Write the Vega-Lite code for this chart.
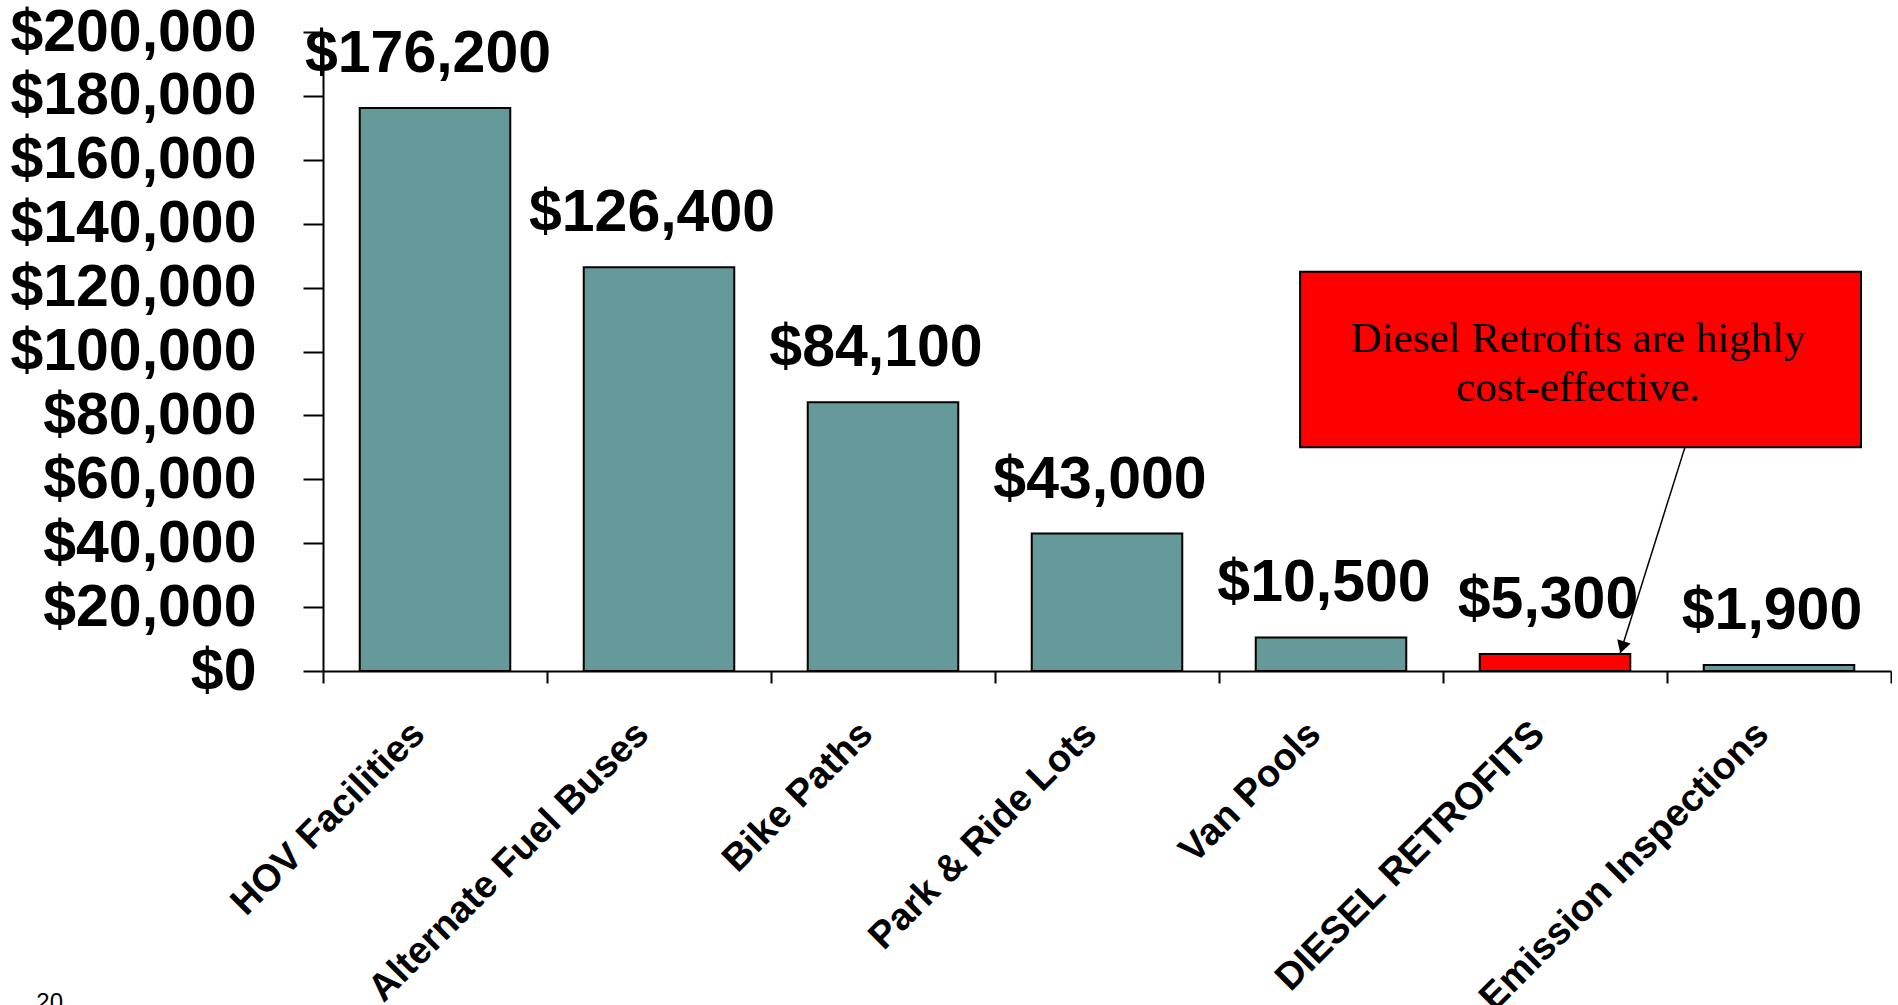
{
  "$schema": "https://vega.github.io/schema/vega-lite/v6.json",
  "width": 1568,
  "height": 639,
  "autosize": {"type": "pad"},
  "padding": {"left": 9, "top": 3, "right": 0, "bottom": 0},
  "background": "white",
  "datasets": {
    "bars": [
      {"category": "HOV Facilities", "cost": 176200},
      {"category": "Alternate Fuel Buses", "cost": 126400},
      {"category": "Bike Paths", "cost": 84100},
      {"category": "Park & Ride Lots", "cost": 43000},
      {"category": "Van Pools", "cost": 10500},
      {"category": "DIESEL RETROFITS", "cost": 5300},
      {"category": "Emission Inspections", "cost": 1900}
    ],
    "box": [{"x1": 4.362, "x2": 6.866, "y1": 70000, "y2": 125000}],
    "note": [
      {"x": 5.603, "y": 100000, "text": "Diesel Retrofits are highly"},
      {"x": 5.603, "y": 84500, "text": "cost-effective."}
    ],
    "arrow": [{"x1": 6.08, "y1": 70000, "x2": 5.79, "y2": 5300}],
    "head": [{"x": 5.7996, "y": 7420}],
    "page": [{"x": -1.28, "y": -106100, "text": "20"}]
  },
  "layer": [
    {
      "data": {"name": "bars"},
      "encoding": {
        "x": {
          "field": "category",
          "type": "nominal",
          "sort": null,
          "title": null,
          "scale": {"paddingInner": 0, "paddingOuter": 0},
          "axis": {
            "bandPosition": 1,
            "tickExtra": true,
            "labelAngle": -45,
            "labelAlign": "right",
            "labelBaseline": "middle",
            "labelPadding": 45,
            "labelOffset": -16,
            "labelFontSize": 38,
            "labelFont": "Liberation Sans",
            "labelFontWeight": "bold",
            "labelColor": "black",
            "labelLimit": 1000,
            "labelOverlap": false,
            "tickSize": 12,
            "tickWidth": 2,
            "tickColor": "black",
            "domainColor": "black",
            "domainWidth": 2
          }
        },
        "y": {
          "field": "cost",
          "type": "quantitative",
          "title": null,
          "scale": {"domain": [0, 200000], "nice": false},
          "axis": {"format": "$,.0f", "values": [0, 20000, 40000, 60000, 80000, 100000, 120000, 140000, 160000, 180000, 200000]}
        }
      },
      "layer": [
        {
          "mark": {"type": "bar", "width": {"band": 0.672}, "stroke": "black", "strokeWidth": 2},
          "encoding": {
            "color": {
              "condition": {"test": "datum.category === 'DIESEL RETROFITS'", "value": "#FF0000"},
              "value": "#669999"
            }
          }
        },
        {
          "mark": {
            "type": "text",
            "font": "Liberation Sans",
            "fontWeight": "bold",
            "fontSize": 59,
            "align": "center",
            "baseline": "alphabetic",
            "dx": -7,
            "dy": -36,
            "color": "black"
          },
          "encoding": {
            "text": {"field": "cost", "type": "quantitative", "format": "$,.0f"}
          }
        }
      ]
    },
    {
      "layer": [
        {
          "data": {"name": "box"},
          "mark": {"type": "rect", "fill": "#FF0000", "stroke": "black", "strokeWidth": 2},
          "encoding": {
            "x": {"field": "x1", "type": "quantitative", "scale": {"domain": [0, 7], "nice": false, "zero": false}, "axis": null},
            "x2": {"field": "x2"},
            "y": {"field": "y1", "type": "quantitative", "title": null, "axis": {"format": "$,.0f", "values": [0, 20000, 40000, 60000, 80000, 100000, 120000, 140000, 160000, 180000, 200000]}},
            "y2": {"field": "y2"}
          }
        },
        {
          "data": {"name": "note"},
          "mark": {"type": "text", "font": "Liberation Serif", "fontSize": 43, "align": "center", "baseline": "alphabetic", "color": "black"},
          "encoding": {
            "x": {"field": "x", "type": "quantitative", "scale": {"domain": [0, 7], "nice": false, "zero": false}, "axis": null},
            "y": {"field": "y", "type": "quantitative", "title": null, "axis": {"format": "$,.0f", "values": [0, 20000, 40000, 60000, 80000, 100000, 120000, 140000, 160000, 180000, 200000]}},
            "text": {"field": "text", "type": "nominal"}
          }
        },
        {
          "data": {"name": "arrow"},
          "mark": {"type": "rule", "color": "black", "strokeWidth": 1.5},
          "encoding": {
            "x": {"field": "x1", "type": "quantitative", "scale": {"domain": [0, 7], "nice": false, "zero": false}, "axis": null},
            "x2": {"field": "x2"},
            "y": {"field": "y1", "type": "quantitative", "title": null, "axis": {"format": "$,.0f", "values": [0, 20000, 40000, 60000, 80000, 100000, 120000, 140000, 160000, 180000, 200000]}},
            "y2": {"field": "y2"}
          }
        },
        {
          "data": {"name": "head"},
          "mark": {"type": "point", "shape": "triangle-down", "filled": true, "color": "black", "size": 200, "angle": 17.6, "opacity": 1},
          "encoding": {
            "x": {"field": "x", "type": "quantitative", "scale": {"domain": [0, 7], "nice": false, "zero": false}, "axis": null},
            "y": {"field": "y", "type": "quantitative", "title": null, "axis": {"format": "$,.0f", "values": [0, 20000, 40000, 60000, 80000, 100000, 120000, 140000, 160000, 180000, 200000]}}
          }
        },
        {
          "data": {"name": "page"},
          "mark": {"type": "text", "font": "Liberation Sans", "fontSize": 24, "align": "left", "baseline": "alphabetic", "color": "black", "clip": false},
          "encoding": {
            "x": {"field": "x", "type": "quantitative", "scale": {"domain": [0, 7], "nice": false, "zero": false}, "axis": null},
            "y": {"field": "y", "type": "quantitative", "title": null, "axis": {"format": "$,.0f", "values": [0, 20000, 40000, 60000, 80000, 100000, 120000, 140000, 160000, 180000, 200000]}},
            "text": {"field": "text", "type": "nominal"}
          }
        }
      ]
    }
  ],
  "resolve": {"scale": {"x": "independent"}},
  "config": {
    "view": {"stroke": null},
    "axisY": {
      "grid": false,
      "labelFont": "Liberation Sans",
      "labelFontWeight": "bold",
      "labelFontSize": 59,
      "labelColor": "black",
      "labelLimit": 1000,
      "labelPadding": 47,
      "labelOverlap": false,
      "labelBaseline": "middle",
      "tickSize": 20,
      "tickWidth": 2,
      "tickColor": "black",
      "domainColor": "black",
      "domainWidth": 2
    },
    "axisX": {"grid": false}
  }
}
